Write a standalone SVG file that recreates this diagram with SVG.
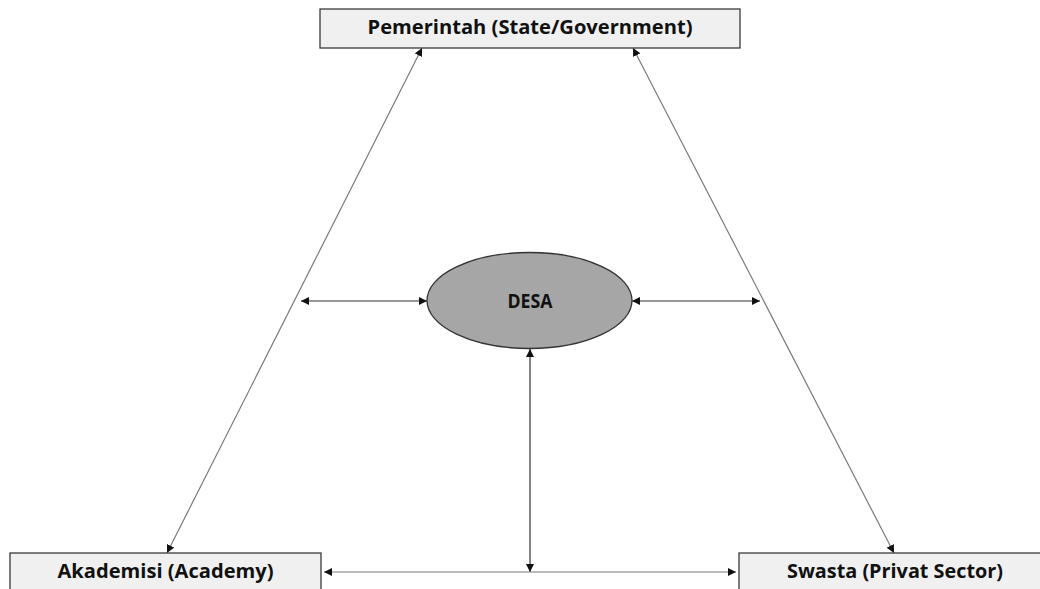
<svg xmlns="http://www.w3.org/2000/svg" width="1040" height="589" viewBox="0 0 1040 589">
<style>
.box{fill:#f0f0f0;stroke:#3a3a3a;stroke-width:1.3}
.lbl{font-family:"Open Sans","Noto Sans","Liberation Sans",sans-serif;font-weight:bold;fill:#111;text-anchor:middle}
.diag{stroke:#7a7a7a;stroke-width:1.2;fill:none}
.arr{stroke:#333;stroke-width:1.2;fill:none;marker-start:url(#ah);marker-end:url(#ah)}
</style>
<defs>
<marker id="ah" viewBox="0 0 10 10" refX="10" refY="5" markerWidth="8" markerHeight="8" markerUnits="userSpaceOnUse" orient="auto-start-reverse">
<path d="M0,0 L10,5 L0,10 z" fill="#111"/>
</marker>
</defs>
<rect width="1040" height="589" fill="#fff"/>
<g id="connectors">
<line class="diag" x1="422" y1="48" x2="167" y2="553" marker-start="url(#ah)" marker-end="url(#ah)"/>
<line class="diag" x1="633" y1="48" x2="894" y2="553" marker-start="url(#ah)" marker-end="url(#ah)"/>
<line class="arr" x1="301" y1="301" x2="427" y2="301"/>
<line class="arr" x1="632" y1="301" x2="760" y2="301"/>
<line class="arr" x1="530" y1="349" x2="530" y2="572"/>
<line class="diag" x1="324" y1="572" x2="736" y2="572" marker-start="url(#ah)" marker-end="url(#ah)"/>
</g>
<g id="gov">
<rect class="box" x="320" y="9" width="420" height="39"/>
<text class="lbl" x="530" y="34" font-size="20" textLength="325" lengthAdjust="spacingAndGlyphs">Pemerintah (State/Government)</text>
</g>
<g id="desa">
<ellipse cx="529.5" cy="300.5" rx="102.5" ry="48" fill="#a6a6a6" stroke="#333" stroke-width="1.3"/>
<text class="lbl" x="530" y="308" font-size="20" textLength="45" lengthAdjust="spacingAndGlyphs">DESA</text>
</g>
<g id="academy">
<rect class="box" x="10" y="553" width="311" height="50"/>
<text class="lbl" x="165.5" y="578" font-size="20" textLength="216" lengthAdjust="spacingAndGlyphs">Akademisi (Academy)</text>
</g>
<g id="private">
<rect class="box" x="739" y="553" width="312" height="50"/>
<text class="lbl" x="895" y="578" font-size="20" textLength="216" lengthAdjust="spacingAndGlyphs">Swasta (Privat Sector)</text>
</g>
</svg>
